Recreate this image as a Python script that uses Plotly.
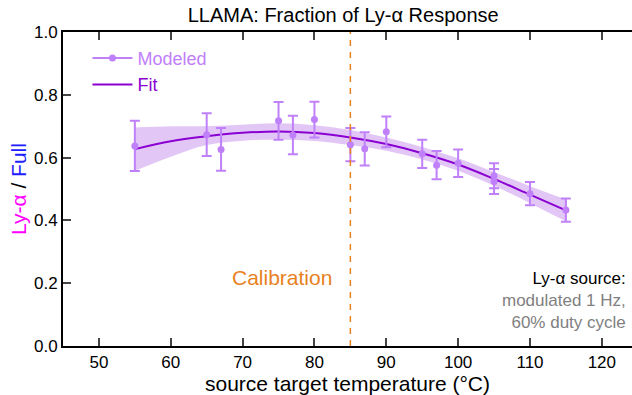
import plotly.graph_objects as go

# Modeled points
temp = [55, 65, 67, 75, 77, 80, 85, 87, 90, 95, 97, 100, 105, 105, 110, 115]
frac = [0.637, 0.673, 0.626, 0.717, 0.672, 0.721, 0.641, 0.628, 0.682, 0.612, 0.576, 0.582, 0.542, 0.524, 0.485, 0.433]
frac_err = [0.080, 0.068, 0.068, 0.060, 0.061, 0.057, 0.053, 0.053, 0.049, 0.045, 0.045, 0.044, 0.040, 0.040, 0.037, 0.037]

# Fit curve and band
fit_t = [55, 60, 65, 70, 75, 80, 85, 90, 95, 100, 105, 110, 115]
fit_v = [0.627, 0.652, 0.668, 0.679, 0.683, 0.678, 0.664, 0.643, 0.614, 0.578, 0.532, 0.482, 0.432]
fit_lo = [0.558, 0.603, 0.640, 0.654, 0.657, 0.653, 0.640, 0.622, 0.594, 0.558, 0.510, 0.455, 0.397]
fit_hi = [0.696, 0.700, 0.700, 0.705, 0.709, 0.703, 0.688, 0.664, 0.634, 0.598, 0.554, 0.509, 0.467]

calib_t = 85
x_ticks = [50, 60, 70, 80, 90, 100, 110, 120]
y_ticks = [0.0, 0.2, 0.4, 0.6, 0.8, 1.0]

LIGHT = "#bf80fa"
DARK = "#8a00d2"
BAND = "rgba(190,130,235,0.45)"
ORANGE = "#e8821e"
FONT = "Liberation Sans, Arial, sans-serif"

fig = go.Figure()
fig.add_trace(go.Scatter(x=fit_t, y=fit_hi, mode="lines", line=dict(width=0, shape="spline"),
                         showlegend=False, hoverinfo="skip"))
fig.add_trace(go.Scatter(x=fit_t, y=fit_lo, mode="lines", line=dict(width=0, shape="spline"),
                         fill="tonexty", fillcolor=BAND, showlegend=False, hoverinfo="skip"))
fig.add_trace(go.Scatter(x=fit_t, y=fit_v, mode="lines", line=dict(color=DARK, width=2, shape="spline"),
                         showlegend=False))
fig.add_trace(go.Scatter(x=temp, y=frac, mode="markers",
                         marker=dict(color=LIGHT, size=7),
                         error_y=dict(type="data", array=frac_err, color=LIGHT, thickness=2, width=5),
                         showlegend=False))
# legend entries
fig.add_trace(go.Scatter(x=[None], y=[None], mode="lines+markers",
                         marker=dict(color=LIGHT, size=7), line=dict(color=LIGHT, width=2),
                         name=f"<span style='color:{LIGHT}'>Modeled</span>"))
fig.add_trace(go.Scatter(x=[None], y=[None], mode="lines",
                         line=dict(color=DARK, width=2),
                         name=f"<span style='color:{DARK}'>Fit</span>"))

fig.add_shape(type="line", x0=calib_t, x1=calib_t, y0=0, y1=1, xref="x", yref="y",
              line=dict(color=ORANGE, width=1.5, dash="6px,6px"))

fig.add_annotation(x=75.5, y=0.217, xref="x", yref="y", text="Calibration", showarrow=False,
                   font=dict(color=ORANGE, size=21, family=FONT), xanchor="center", yanchor="middle")
fig.add_annotation(x=0.993, y=0.252, xref="paper", yref="paper",
                   text="Ly-α source:<br><span style='color:#808080'>modulated 1 Hz,</span><br>"
                        "<span style='color:#808080'>60% duty cycle</span>",
                   showarrow=False, align="right", xanchor="right", yanchor="top",
                   font=dict(color="black", size=17, family=FONT))

fig.update_layout(
    width=632, height=395,
    margin=dict(l=63, r=0, t=32, b=49),
    paper_bgcolor="white", plot_bgcolor="white",
    font=dict(family=FONT, color="black", size=17),
    title=dict(text="LLAMA: Fraction of Ly-α Response", x=0.543, xanchor="center",
               y=0.962, yanchor="middle", font=dict(size=20)),
    legend=dict(x=0.043, y=0.975, xanchor="left", yanchor="top", bgcolor="rgba(0,0,0,0)",
                font=dict(size=18), itemwidth=40, tracegroupgap=0, traceorder="normal"),
    xaxis=dict(range=[45, 124.2], tickvals=x_ticks, ticks="inside", ticklen=8, tickwidth=2,
               showline=True, linewidth=2, linecolor="black", mirror="ticks", showgrid=False,
               zeroline=False, tickfont=dict(size=17),
               title=dict(text="source target temperature (°C)", font=dict(size=21), standoff=4)),
    yaxis=dict(range=[0, 1], tickvals=y_ticks, tickformat=".1f", ticks="inside", ticklen=8, tickwidth=2,
               showline=True, linewidth=2, linecolor="black", mirror=False, showgrid=False,
               zeroline=False, tickfont=dict(size=17),
               title=dict(text="<span style='color:#ff00ff'>Ly-α</span> / <span style='color:#2020ff'>Full</span>",
                          font=dict(size=21), standoff=2)),
)

fig.write_html("out.html")
